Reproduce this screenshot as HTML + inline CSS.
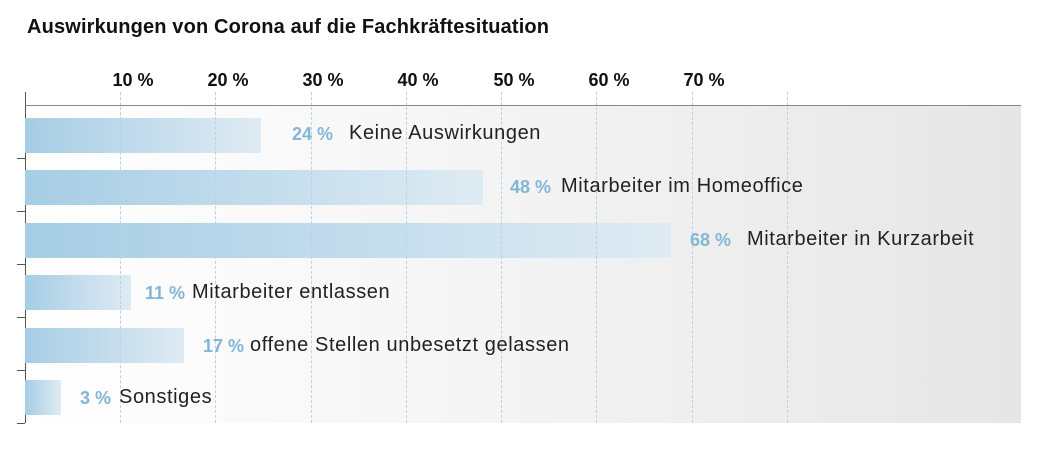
<!DOCTYPE html>
<html><head><meta charset="utf-8"><style>
body{margin:0;width:1041px;height:466px;background:#fff;font-family:"Liberation Sans",sans-serif;position:relative;overflow:hidden}
.a{position:absolute;white-space:nowrap}
.t{left:27px;top:16px;font-size:20px;font-weight:bold;color:#111;letter-spacing:0.15px}
.tick{top:70px;font-size:18px;font-weight:bold;color:#111;transform:translateX(-50%)}
.plot{left:25px;top:105px;width:996px;height:318px;background:linear-gradient(90deg,#fff 0%,#f6f6f6 40%,#e6e6e6 100%)}
.g{top:92px;height:331px;border-left:1px dashed #b9d3e4;width:0}
.bar{left:25px;height:35px;background:linear-gradient(90deg,#a6cde5,#dfebf3)}
.p{font-size:18px;font-weight:bold;color:#83b6d6}
.l{font-size:20px;color:#222;letter-spacing:0.6px}
.yt{left:17px;width:8px;border-top:1px solid #555}
</style></head><body>
<div class="a t">Auswirkungen von Corona auf die Fachkräftesituation</div>
<div class="a plot"></div>
<div class="a" style="left:25px;top:92px;width:1px;height:331px;background:#555"></div>
<div class="a" style="left:25px;top:105px;width:996px;height:1px;background:#888"></div>
<div class="a tick" style="left:133px">10 %</div>
<div class="a tick" style="left:228px">20 %</div>
<div class="a tick" style="left:323px">30 %</div>
<div class="a tick" style="left:418px">40 %</div>
<div class="a tick" style="left:514px">50 %</div>
<div class="a tick" style="left:609px">60 %</div>
<div class="a tick" style="left:704px">70 %</div>
<div class="a bar" style="top:118px;width:236px"></div>
<div class="a bar" style="top:170px;width:458px"></div>
<div class="a bar" style="top:223px;width:646px"></div>
<div class="a bar" style="top:275px;width:106px"></div>
<div class="a bar" style="top:328px;width:159px"></div>
<div class="a bar" style="top:380px;width:36px"></div>
<div class="a g" style="left:120px"></div><div class="a g" style="left:215px"></div><div class="a g" style="left:311px"></div><div class="a g" style="left:406px"></div><div class="a g" style="left:501px"></div><div class="a g" style="left:596px"></div><div class="a g" style="left:692px"></div><div class="a g" style="left:787px"></div>
<div class="a yt" style="top:158px"></div><div class="a yt" style="top:211px"></div><div class="a yt" style="top:264px"></div><div class="a yt" style="top:317px"></div><div class="a yt" style="top:370px"></div><div class="a yt" style="top:423px"></div>
<div class="a p" style="left:292px;top:124px">24 %</div><div class="a l" style="left:349px;top:122px">Keine Auswirkungen</div>
<div class="a p" style="left:510px;top:177px">48 %</div><div class="a l" style="left:561px;top:175px">Mitarbeiter im Homeoffice</div>
<div class="a p" style="left:690px;top:230px">68 %</div><div class="a l" style="left:747px;top:228px">Mitarbeiter in Kurzarbeit</div>
<div class="a p" style="left:145px;top:283px">11 %</div><div class="a l" style="left:192px;top:281px">Mitarbeiter entlassen</div>
<div class="a p" style="left:203px;top:336px">17 %</div><div class="a l" style="left:250px;top:334px">offene Stellen unbesetzt gelassen</div>
<div class="a p" style="left:80px;top:388px">3 %</div><div class="a l" style="left:119px;top:386px">Sonstiges</div>
</body></html>
